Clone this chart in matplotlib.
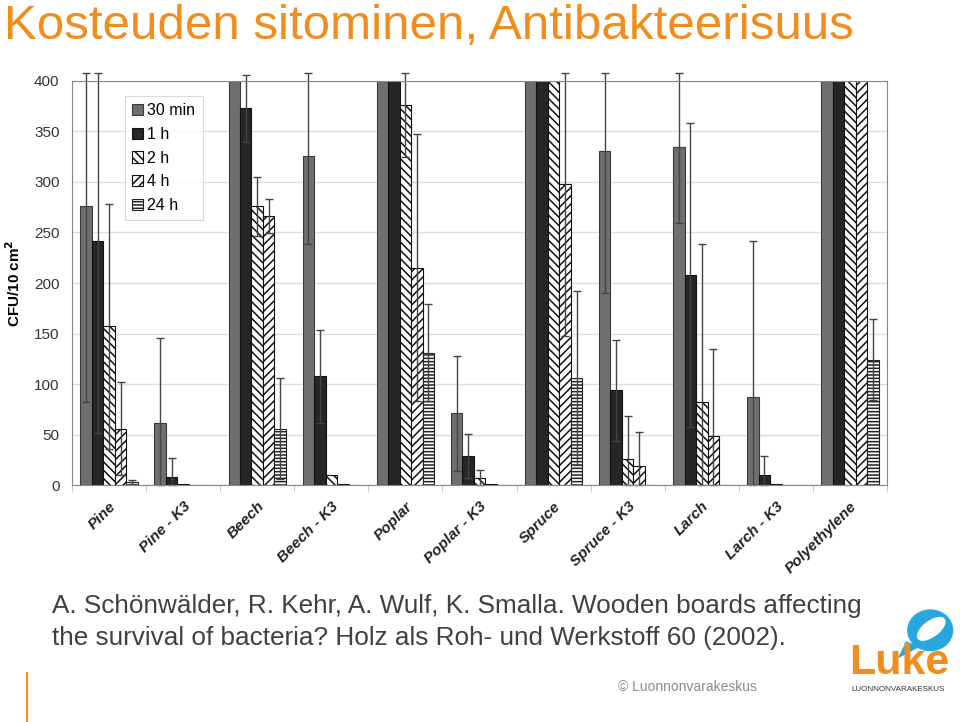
import matplotlib
matplotlib.use("Agg")
import matplotlib.pyplot as plt
from matplotlib.patches import Ellipse, Polygon
import numpy as np

plt.rcParams['font.family'] = ['Liberation Sans', 'DejaVu Sans']
plt.rcParams['hatch.linewidth'] = 1.1

categories = ["Pine", "Pine - K3", "Beech", "Beech - K3", "Poplar", "Poplar - K3",
              "Spruce", "Spruce - K3", "Larch", "Larch - K3", "Polyethylene"]
series = ["30 min", "1 h", "2 h", "4 h", "24 h"]

# means (values above 400 run off the top of the chart)
m_30min = [276, 62, 420, 326, 420, 71, 420, 331, 335, 87, 420]
m_1h = [242, 8, 373, 108, 420, 29, 420, 94, 208, 10, 420]
m_2h = [157, 1, 276, 10, 376, 7, 420, 26, 82, 1, 420]
m_4h = [56, 0.5, 266, 1, 215, 1, 298, 19, 49, 0, 420]
m_24h = [3, 0, 56, 0, 131, 0, 106, 0, 0, 0, 124]

# standard deviations
sd_30min = [194, 84, 0, 87, 0, 57, 0, 141, 76, 155, 0]
sd_1h = [190, 19, 33, 46, 0, 22, 0, 50, 150, 19, 0]
sd_2h = [121, 0, 29, 0, 51, 8, 0, 42, 157, 0, 0]
sd_4h = [46, 0, 17, 0, 132, 0, 150, 34, 86, 0, 0]
sd_24h = [2, 0, 50, 0, 48, 0, 86, 0, 0, 0, 40]

means = [m_30min, m_1h, m_2h, m_4h, m_24h]
sds = [sd_30min, sd_1h, sd_2h, sd_4h, sd_24h]

styles = [
    dict(facecolor="#6f6f6f", edgecolor="#3a3a3a", hatch=None),
    dict(facecolor="#262626", edgecolor="#111111", hatch=None),
    dict(facecolor="white", edgecolor="#111111", hatch="\\\\\\\\"),
    dict(facecolor="white", edgecolor="#111111", hatch="////"),
    dict(facecolor="white", edgecolor="#222222", hatch="-----"),
]

fig = plt.figure(figsize=(9.6, 7.22), dpi=100)
ax = fig.add_axes([0.075, 0.328, 0.849, 0.560])

x = np.arange(len(categories))
w = 0.155
for k in range(5):
    pos = x + (k - 2) * w
    ax.bar(pos, means[k], width=w, linewidth=0.8, label=series[k], **styles[k])

for k in range(5):
    pos = x + (k - 2) * w
    v = np.array(means[k], dtype=float)
    s = np.array(sds[k], dtype=float)
    keep = s > 0
    hi = np.minimum(v + s, 408)
    lo = np.maximum(v - s, 0)
    ax.errorbar(pos[keep], v[keep], yerr=[v[keep] - lo[keep], hi[keep] - v[keep]],
                fmt="none", ecolor="#444444", elinewidth=1, capsize=3, clip_on=False)

ax.set_xlim(-0.5, len(categories) - 0.5)
ax.set_ylim(0, 400)
ax.set_yticks(range(0, 401, 50))
ax.yaxis.grid(True, color="#dddddd", linewidth=1)
ax.set_axisbelow(True)
ax.set_xticks(x)
ax.set_xticklabels(categories, rotation=45, ha="right", rotation_mode="anchor",
                   fontsize=11, fontweight="bold", fontstyle="italic", color="#222222")
ax.set_xticks(np.arange(-0.5, len(categories), 1), minor=True)
ax.tick_params(axis="x", which="major", length=0, pad=10)
ax.tick_params(axis="x", which="minor", length=4, color="#bbbbbb")
ax.tick_params(axis="y", length=0, labelsize=11, labelcolor="#333333", pad=9)
for sp in ax.spines.values():
    sp.set_color("#888888")
ax.set_ylabel("CFU/10 cm$^\\mathbf{2}$", fontsize=11, fontweight="bold", labelpad=8)

leg = ax.legend(loc="upper left", bbox_to_anchor=(0.065, 0.963), fontsize=11.5,
                handlelength=0.7, handleheight=0.7, handletextpad=0.25,
                labelspacing=0.55, fancybox=False, edgecolor="#d0d0d0",
                borderpad=0.45, borderaxespad=0)
leg.get_frame().set_linewidth(0.8)

orange = "#f28c1c"
fig.text(0.004, 0.946, "Kosteuden sitominen, Antibakteerisuus", fontsize=35.5,
         color=orange, va="baseline", ha="left")
fig.text(0.054, 0.151, "A. Schönwälder, R. Kehr, A. Wulf, K. Smalla. Wooden boards affecting",
         fontsize=18.8, color="#404040", va="baseline", ha="left")
fig.text(0.054, 0.107, "the survival of bacteria? Holz als Roh- und Werkstoff 60 (2002).",
         fontsize=18.8, color="#404040", va="baseline", ha="left")
fig.text(0.644, 0.049, "© Luonnonvarakeskus", fontsize=10, color="#8a8a8a",
         va="center", ha="left")

# orange marker line bottom-left
fig.add_artist(plt.Line2D([0.028, 0.028], [0.0, 0.068], color=orange, linewidth=1.5))

# Luke logo
fig.add_artist(Polygon([[0.944, 0.112], [0.935, 0.088], [0.958, 0.104]], closed=True,
                       facecolor="#27a7de", edgecolor="none", transform=fig.transFigure))
fig.add_artist(Ellipse((0.969, 0.127), 0.048, 0.058, facecolor="#27a7de",
                       edgecolor="none", transform=fig.transFigure))
fig.add_artist(Ellipse((0.970, 0.129), 0.020, 0.040, angle=-40, facecolor="white",
                       edgecolor="none", transform=fig.transFigure))
fig.text(0.937, 0.082, "Luke", fontsize=31, fontweight="bold", color=orange,
         ha="center", va="center")
fig.text(0.936, 0.045, "LUONNONVARAKESKUS", fontsize=5.8, color="#333333",
         ha="center", va="center")

fig.savefig("out.png", dpi=100)
